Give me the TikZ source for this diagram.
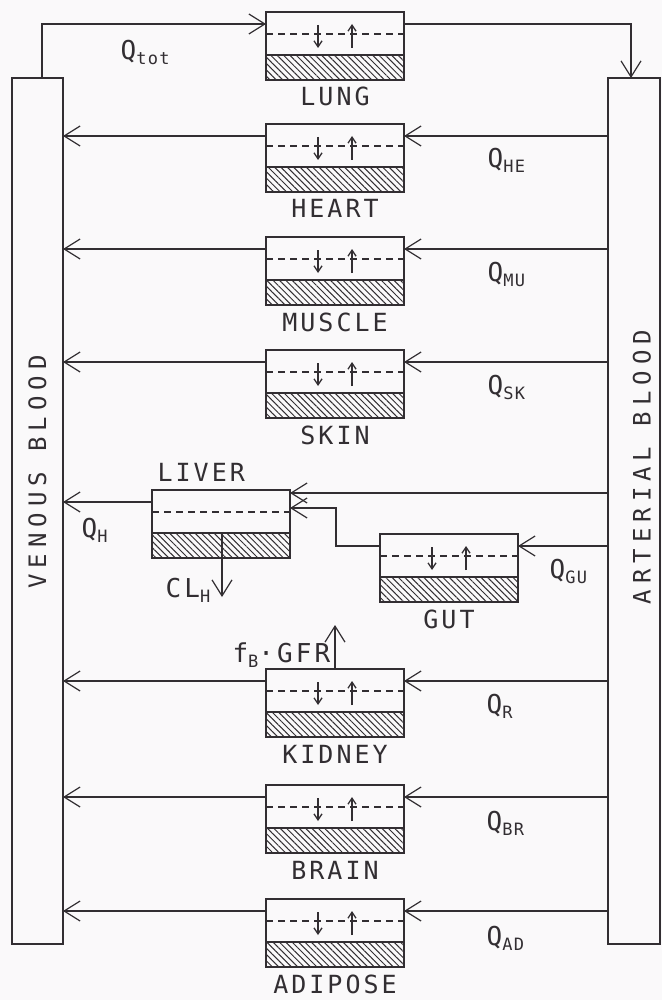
\documentclass[tikz,border=0pt]{standalone}
\usepackage{fontspec}
\newfontfamily\plotfont{DejaVu Sans Mono}[LetterSpace=12]
\newfontfamily\subfont{DejaVu Sans Mono}[LetterSpace=8]
\newfontfamily\plotwide{DejaVu Sans Mono}[LetterSpace=25]
\usetikzlibrary{arrows.meta,calc,patterns.meta}
\definecolor{ink}{RGB}{50,46,50}
\definecolor{paper}{RGB}{250,249,250}
\newcommand\lsub[1]{\raisebox{-5pt}{\subfont\fontsize{17}{17}\selectfont #1}}
\tikzset{
  organ/.style={draw, rectangle, anchor=north west, minimum width=138pt,
    minimum height=68pt, inner sep=0pt, outer sep=0pt},
  column/.style={draw, rectangle, anchor=north west, minimum height=866pt,
    inner sep=0pt, outer sep=0pt},
  flow/.style={-{Straight Barb[length=16pt,width=20pt]}},
  tiny/.style={-{Straight Barb[length=6pt,width=8pt]}, line width=1.3pt},
  hatch/.style={pattern={Lines[angle=-45,distance=4.5pt,line width=1pt]}, pattern color=ink},
  lbl/.style={font=\plotfont\fontsize{25}{25}\selectfont, inner sep=0pt, anchor=base},
  qlbl/.style={font=\plotfont\fontsize{26}{26}\selectfont, inner sep=0pt, anchor=base west},
  vlbl/.style={font=\plotwide\fontsize{24}{24}\selectfont, inner sep=0pt, rotate=90}
}
\newcommand\organbox[3]{%
  \fill[hatch] (#2,#3+43) rectangle (#2+138,#3+68);
  \node[organ] (#1) at (#2,#3) {};
  \draw[dash pattern=on 7pt off 5pt] ($(#1.north west)+(0,22)$) -- ($(#1.north east)+(0,22)$);
  \draw ($(#1.north west)+(0,43)$) -- ($(#1.north east)+(0,43)$);
  \coordinate (#1-l) at ($(#1.north west)+(0,12)$);
  \coordinate (#1-r) at ($(#1.north east)+(0,12)$);
}
\newcommand\exch[1]{%
  \draw[tiny] ($(#1.north)+(-17,13)$) -- ($(#1.north)+(-17,36)$);
  \draw[tiny] ($(#1.north)+(17,36)$) -- ($(#1.north)+(17,12)$);
}
\begin{document}
\begin{tikzpicture}[x=1pt,y=-1pt,line width=1.2pt,color=ink]
\fill[paper] (0,0) rectangle (662,1000);
\useasboundingbox (0,0) rectangle (662,1000);

% blood columns
\node[column, minimum width=51pt] (ven) at (12,78) {};
\node[column, minimum width=52pt] (art) at (608,78) {};
\node[vlbl] (venlbl) at (37.5,472) {VENOUS BLOOD};
\node[vlbl] (artlbl) at (642,467) {ARTERIAL BLOOD};
\coordinate (vtop) at (42,78);
\coordinate (atop) at (631,78);

% organs
\organbox{lung}{266}{12}
\organbox{heart}{266}{124}
\organbox{muscle}{266}{237}
\organbox{skin}{266}{350}
\organbox{liver}{152}{490}
\organbox{gut}{380}{534}
\organbox{kidney}{266}{669}
\organbox{brain}{266}{785}
\organbox{adipose}{266}{899}
\exch{lung}\exch{heart}\exch{muscle}\exch{skin}\exch{gut}
\exch{kidney}\exch{brain}\exch{adipose}

% organ labels
\node[lbl] (lunglbl) at ($(lung.south)+(0,26)$) {LUNG};
\node[lbl] (heartlbl) at ($(heart.south)+(0,26)$) {HEART};
\node[lbl] (musclelbl) at ($(muscle.south)+(0,26)$) {MUSCLE};
\node[lbl] (skinlbl) at ($(skin.south)+(0,26)$) {SKIN};
\node[lbl, anchor=base west] (liverlbl) at (157,481) {LIVER};
\node[lbl] (gutlbl) at ($(gut.south)+(0,26)$) {GUT};
\node[lbl] (kidneylbl) at ($(kidney.south)+(0,26)$) {KIDNEY};
\node[lbl] (brainlbl) at ($(brain.south)+(0,26)$) {BRAIN};
\node[lbl] (adiposelbl) at ($(adipose.south)+(0,26)$) {ADIPOSE};

% lung circuit
\draw[flow] (vtop) |- (lung-l);
\draw[flow] (lung-r) -| (atop);

% systemic organs
\foreach \o in {heart,muscle,skin,kidney,brain,adipose}{
  \draw[flow] (\o-l) -- (\o-l -| ven.east);
  \draw[flow] (\o-r -| art.west) -- (\o-r);
}

% liver and gut
\coordinate (liver-a) at ($(liver.north east)+(0,3)$);
\coordinate (liver-g) at ($(liver.north east)+(0,18)$);
\draw[flow] (liver-l) -- (liver-l -| ven.east);
\draw[flow] (liver-a -| art.west) -- (liver-a);
\draw[flow] (gut-r -| art.west) -- (gut-r);
\draw[flow] (gut-l) -- ++(-44,0) |- (liver-g);
\coordinate (clstart) at ($(liver.north west)+(70,44)$);
\coordinate (clend) at ($(liver.north west)+(70,107)$);
\draw[flow] (clstart) -- (clend);
\coordinate (gfrend) at ($(kidney.north)+(0,-44)$);
\draw[flow] (kidney.north) -- (gfrend);

% flow labels
\node[qlbl] (qtot) at (120,60) {Q\lsub{tot}};
\node[qlbl] (qhe) at (487,168) {Q\lsub{HE}};
\node[qlbl] (qmu) at (487,281) {Q\lsub{MU}};
\node[qlbl] (qsk) at (487,394) {Q\lsub{SK}};
\node[qlbl] (qh) at (81,537) {Q\lsub{H}};
\node[qlbl] (qgu) at (549,578) {Q\lsub{GU}};
\node[qlbl] (qr) at (486,713) {Q\lsub{R}};
\node[qlbl] (qbr) at (486,830) {Q\lsub{BR}};
\node[qlbl] (qad) at (486,945) {Q\lsub{AD}};
\node[qlbl, anchor=base east] (clh) at (211,597) {CL\lsub{H}};
\node[qlbl, anchor=base east] (gfr) at (331,662) {f\lsub{B}·GFR};
\end{tikzpicture}
\end{document}
